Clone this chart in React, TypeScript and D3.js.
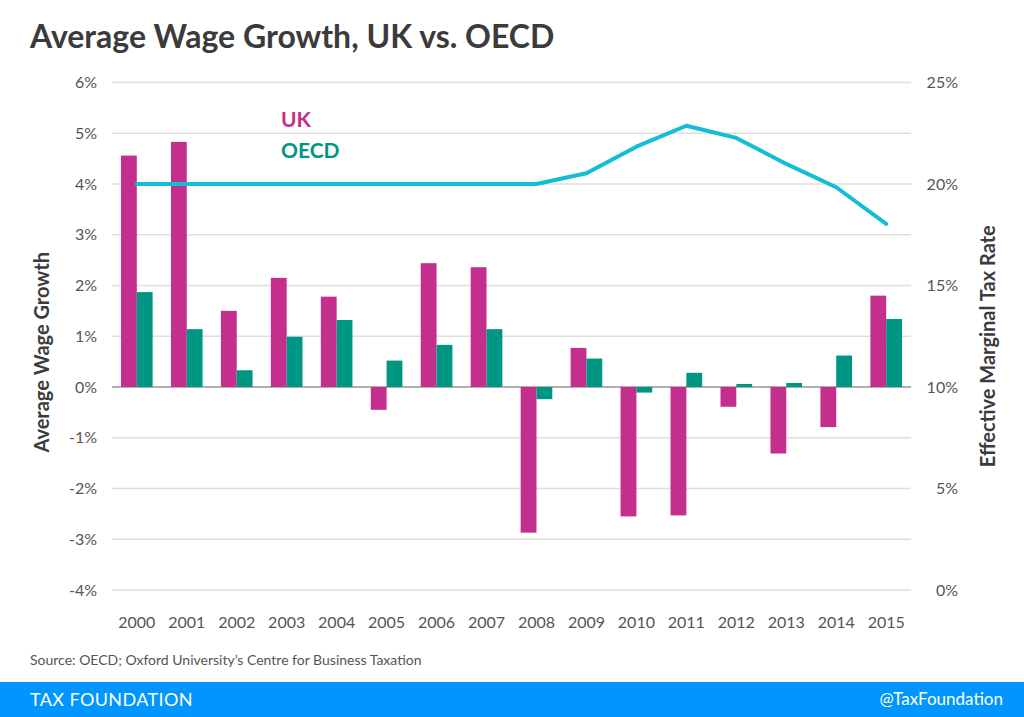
import React from "react";
import * as d3 from "d3";

const years = ["2000","2001","2002","2003","2004","2005","2006","2007","2008","2009","2010","2011","2012","2013","2014","2015"];
const ukGrowth = [4.56, 4.83, 1.50, 2.15, 1.78, -0.45, 2.44, 2.36, -2.87, 0.77, -2.55, -2.53, -0.39, -1.31, -0.79, 1.80];
const oecdGrowth = [1.87, 1.14, 0.33, 0.99, 1.32, 0.52, 0.83, 1.14, -0.24, 0.56, -0.11, 0.28, 0.06, 0.08, 0.62, 1.34];
const marginalTaxRate = [20.0, 20.0, 20.0, 20.0, 20.0, 20.0, 20.0, 20.0, 20.0, 20.53, 21.84, 22.87, 22.27, 20.99, 19.84, 18.04];
const leftTicks = [6, 5, 4, 3, 2, 1, 0, -1, -2, -3, -4];
const rightTicks = [25, 20, 15, 10, 5, 0];

const W = 1024, H = 717;
const plotLeft = 112, plotRight = 911, plotTop = 82.5, plotBottom = 590;
const FONT = "Lato, 'Open Sans', sans-serif";

export default function App() {
  const x = d3.scaleBand<string>().domain(years).range([plotLeft, plotRight]).paddingInner(0.367).paddingOuter(0.18);
  const xSub = d3.scaleBand<string>().domain(["uk", "oecd"]).range([0, x.bandwidth()]);
  const yL = d3.scaleLinear().domain([-4, 6]).range([plotBottom, plotTop]);
  const yR = d3.scaleLinear().domain([0, 25]).range([plotBottom, plotTop]);
  const cx = (y: string) => (x(y) as number) + x.bandwidth() / 2;
  const line = d3.line<number>().x((_, i) => cx(years[i])).y((d) => yR(d));

  const bar = (v: number, yr: string, key: string, color: string) => {
    const y0 = yL(0), y1 = yL(v);
    return (
      <rect key={key + yr} x={(x(yr) as number) + (xSub(key) as number)} width={xSub.bandwidth()}
        y={Math.min(y0, y1)} height={Math.abs(y1 - y0)} fill={color} />
    );
  };

  return (
    <svg width={W} height={H} style={{ position: "absolute", left: 0, top: 0, background: "#fff" }} fontFamily={FONT}>
      <text x={30} y={48} fontSize={32} fontWeight={700} fill="#3b3b3b">Average Wage Growth, UK vs. OECD</text>
      {leftTicks.map((t) => (
        <g key={"g" + t}>
          <line x1={plotLeft} x2={plotRight} y1={yL(t)} y2={yL(t)} stroke={t === 0 ? "#b0b0b0" : "#dedede"} strokeWidth={t === 0 ? 2 : 1.5} />
          <text x={97} y={yL(t)} dy="0.35em" textAnchor="end" fontSize={16} fill="#555">{t + "%"}</text>
        </g>
      ))}
      {rightTicks.map((t) => (
        <text key={"r" + t} x={958} y={yR(t)} dy="0.35em" textAnchor="end" fontSize={16} fill="#555">{t + "%"}</text>
      ))}
      {years.map((yr, i) => bar(ukGrowth[i], yr, "uk", "#C42E8D"))}
      {years.map((yr, i) => bar(oecdGrowth[i], yr, "oecd", "#009684"))}
      <path d={line(marginalTaxRate) || ""} fill="none" stroke="#14BDD6" strokeWidth={4} strokeLinejoin="round" strokeLinecap="round" />
      {years.map((yr) => (
        <text key={"x" + yr} x={cx(yr)} y={622} dy="0.35em" textAnchor="middle" fontSize={16} fill="#555">{yr}</text>
      ))}
      <text x={281} y={127} fontSize={21} fontWeight={700} fill="#C42E8D">UK</text>
      <text x={281} y={158} fontSize={21} fontWeight={700} fill="#009684">OECD</text>
      <text transform={`translate(49,${(plotTop + plotBottom) / 2 + 16}) rotate(-90)`} textAnchor="middle" fontSize={20} fontWeight={700} fill="#3b3b3b">Average Wage Growth</text>
      <text transform={`translate(995,${(plotTop + plotBottom) / 2 + 10}) rotate(-90)`} textAnchor="middle" fontSize={20} fontWeight={700} fill="#3b3b3b">Effective Marginal Tax Rate</text>
      <text x={30} y={665} fontSize={14} fill="#555">Source: OECD; Oxford University’s Centre for Business Taxation</text>
      <rect x={0} y={682} width={W} height={35} fill="#0095FF" />
      <text x={30} y={706} fontSize={18} letterSpacing={0.4} fill="#fff">TAX FOUNDATION</text>
      <text x={1003} y={705} textAnchor="end" fontSize={17} fill="#fff">@TaxFoundation</text>
    </svg>
  );
}
